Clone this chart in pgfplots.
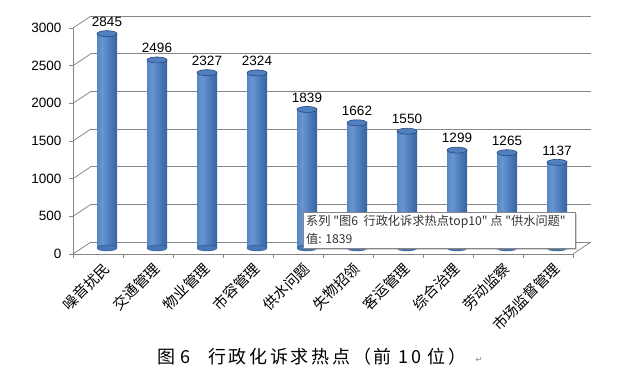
\documentclass[border=0pt]{standalone}
\usepackage{pgfplots}
\pgfplotsset{compat=1.18}
\usepackage{fontspec}
\setmainfont{Liberation Sans}
\newfontfamily\cjk{Noto Sans CJK SC}
\newfontfamily\sym{DejaVu Sans}
\usetikzlibrary{shadows}
\definecolor{gridgray}{RGB}{134,134,134}
\definecolor{bardark}{RGB}{44,82,142}
\definecolor{barmid}{RGB}{70,118,182}
\definecolor{barlight}{RGB}{105,150,210}
\definecolor{bartop}{RGB}{80,128,192}
\definecolor{toprim}{RGB}{40,72,125}
\pgfdeclarehorizontalshading{cyl}{100bp}{color(0bp)=(bardark); color(12bp)=(barmid); color(38bp)=(barlight); color(60bp)=(barmid); color(88bp)=(bardark); color(100bp)=(bardark)}
\pgfdeclareplotmark{cylend}{%
  \pgfpathellipse{\pgfpointorigin}{\pgfqpoint{10pt}{0pt}}{\pgfqpoint{0pt}{3pt}}%
  \pgfusepathqfillstroke}
\pgfplotstableread{
x y
0 2845
1 2496
2 2327
3 2324
4 1839
5 1662
6 1550
7 1299
8 1265
9 1137
}\datatable
\begin{document}
\begin{tikzpicture}[x=1pt,y=1pt]
\path[use as bounding box] (0,0) rectangle (621,382);
% back wall
\begin{axis}[at={(91pt,140pt)}, anchor=south west, scale only axis,
  width=500pt, height=226pt, xmin=-0.5, xmax=9.5, ymin=0, ymax=3000,
  axis line style={draw=none}, xtick=\empty, ytick={0,500,...,3000},
  yticklabels={}, major tick length=0pt, ymajorgrids,
  grid style={gridgray, line width=0.8pt}]
\end{axis}
% left wall and floor edges
\foreach \k in {0,...,6} {
  \draw[gridgray, line width=0.8pt] (73,{128+\k*226/6}) -- (91,{140+\k*226/6});
}
\draw[gridgray, line width=0.8pt] (573,128) -- (591,140);
% bars
\begin{axis}[at={(82pt,134pt)}, anchor=south west, scale only axis,
  width=500pt, height=226pt, xmin=-0.5, xmax=9.5, ymin=0, ymax=3000,
  hide axis, clip=false,
  /pgf/number format/assume math mode=true,
  /pgf/number format/1000 sep={}]
\addplot[only marks, mark=cylend, mark options={fill=barmid, draw=bardark}]
  coordinates {(0,0) (1,0) (2,0) (3,0) (4,0) (5,0) (6,0) (7,0) (8,0) (9,0)};
\pgfplotsinvokeforeach{0,...,9}{
\addplot[ybar, bar width=20pt, bar shift=0pt, draw=none,
  shade, shading=cyl, restrict x to domain=#1:#1,
  nodes near coords,
  every node near coord/.append style={inner sep=0pt, yshift=7pt, text=black,
    font=\fontsize{13.5}{14}\selectfont}]
  table[x=x, y=y] {\datatable};
}
\addplot[only marks, mark=cylend, mark options={fill=bartop, draw=toprim, line width=0.6pt}]
  table[x=x, y=y] {\datatable};
\end{axis}
% front axis
\begin{axis}[at={(73pt,128pt)}, anchor=south west, scale only axis,
  width=500pt, height=226pt, xmin=-0.5, xmax=9.5, ymin=0, ymax=3000,
  axis x line*=bottom, axis y line*=left,
  axis line style={gridgray, line width=0.8pt, -},
  tick style={gridgray, line width=0.8pt}, tick align=outside,
  major tick length=4pt,
  ytick={0,500,...,3000},
  yticklabel style={font=\fontsize{13.5}{14}\selectfont, xshift=-4pt},
  /pgf/number format/assume math mode=true,
  /pgf/number format/1000 sep={},
  xtick={-0.5,0.5,...,9.5}, x tick label as interval,
  xticklabels={噪音扰民,交通管理,物业管理,市容管理,供水问题,失物招领,客运管理,综合治理,劳动监察,市场监督管理},
  xticklabel style={rotate=45, anchor=east, xshift=4pt, yshift=-12pt,
    font=\cjk\fontsize{14.5}{15}\selectfont}]
\end{axis}
% tooltip
\node[draw=gridgray, fill=white, line width=0.6pt, rectangle, minimum width=272pt,
  minimum height=36pt, anchor=north west, inner sep=0pt,
  drop shadow={opacity=0.35, shadow xshift=2pt, shadow yshift=-2pt}] at (303,170) {};
\node[anchor=west, inner sep=0pt, font=\cjk\fontsize{12.2}{13}\selectfont, text=black!80]
  at (306,160) {系列 "图6\ \ 行政化诉求热点top10" 点 "供水问题"};
\node[anchor=west, inner sep=0pt, font=\cjk\fontsize{12.2}{13}\selectfont, text=black!80]
  at (306,143) {值: 1839};
% caption
\node[anchor=west, inner sep=0pt, font=\cjk\fontsize{18}{18}\selectfont] at (157,25)
  {图\hspace{5pt}6\hspace{18pt}\addfontfeature{LetterSpace=15}行政化诉求热点（前 10 位）};
\node[anchor=west, font=\sym\fontsize{8}{8}\selectfont, text=gray] at (472,22) {↵};
\end{tikzpicture}
\end{document}
